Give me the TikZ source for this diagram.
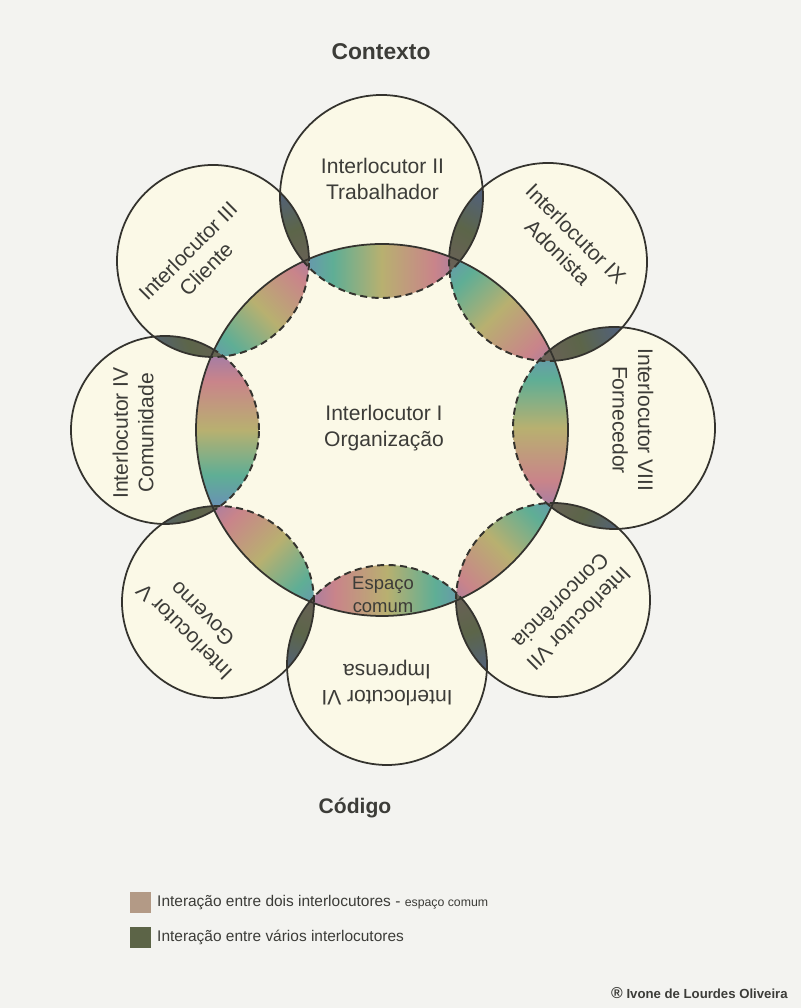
\documentclass[tikz,border=0pt]{standalone}
\usepackage{fontspec}
\setmainfont{Liberation Sans}
\usepackage{xcolor}
\usepackage{tikz}
\usetikzlibrary{positioning,calc}
\definecolor{papel}{HTML}{F3F3F0}
\definecolor{creme}{HTML}{FBF9E7}
\definecolor{traco}{HTML}{34332E}
\definecolor{texto}{HTML}{3C3C38}
\definecolor{lilas}{HTML}{8A78B8}
\definecolor{rosa}{HTML}{C9848A}
\definecolor{oliva}{HTML}{B8B070}
\definecolor{verdeagua}{HTML}{5FAE95}
\definecolor{azulado}{HTML}{6F82C6}
\definecolor{varA}{HTML}{6E5F5C}
\definecolor{varB}{HTML}{5C6549}
\definecolor{varC}{HTML}{4F6088}
\definecolor{codumdois}{HTML}{B39A86}
\definecolor{codvarios}{HTML}{5C6447}
\pgfdeclarehorizontalshading{espaco}{100bp}{color(0bp)=(lilas); color(25bp)=(lilas); color(37bp)=(rosa); color(50bp)=(oliva); color(62bp)=(verdeagua); color(75bp)=(azulado); color(100bp)=(azulado)}
\pgfdeclarehorizontalshading{varios}{100bp}{color(0bp)=(varA); color(25bp)=(varA); color(50bp)=(varB); color(75bp)=(varC); color(100bp)=(varC)}
\tikzset{
  contorno/.style={draw=traco, line width=1pt},
  tracejado/.style={draw=traco, line width=1.1pt, dash pattern=on 4pt off 2.5pt},
  rotulo/.style={text=texto, align=center, font=\fontsize{12}{14.5}\selectfont},
  titulo/.style={text=texto, font=\fontsize{13}{15}\selectfont\bfseries},
  chave/.style={minimum size=0.42cm, inner sep=0pt},
  legenda/.style={text=texto, font=\fontsize{8.8}{10}\selectfont, inner sep=0pt}
}

\begin{document}
\begin{tikzpicture}[x=1cm,y=1cm]
  \useasboundingbox (0,0) rectangle (16.02,20.16);
  \fill[papel] (0,0) rectangle (16.02,20.16);

  % centros dos interlocutores
  \coordinate (org) at (7.64,11.56);
  \foreach \n/\x/\y in {trab/7.63/16.23, adon/10.96/14.92, forn/12.28/11.60, conc/11.06/8.16,
      impr/7.74/6.86, gov/4.36/8.12, com/3.30/11.56, cli/4.26/14.94}
    \coordinate (\n) at (\x,\y);

  % fundo
  \fill[creme] (org) circle[radius=3.72];
  \foreach \n/\r in {trab/2.03, adon/1.98, forn/2.02, conc/1.94, impr/2.00, gov/1.92, com/1.88, cli/1.92}
    \fill[creme] (\n) circle[radius=\r];

  % espaco comum
  \foreach \n/\r/\t in {trab/2.03/180, adon/1.98/135, forn/2.02/90, conc/1.94/45,
      impr/2.00/0, gov/1.92/-45, com/1.88/-90, cli/1.92/-135}{
    \begin{scope}
      \clip (org) circle[radius=3.72];
      \shade[shading=espaco, shading angle=\t] (\n) circle[radius=\r];
    \end{scope}
  }

  % interacao entre varios
  \foreach \a/\ra/\b/\rb/\t in {cli/1.92/trab/2.03/110, trab/2.03/adon/1.98/60, adon/1.98/forn/2.02/20,
      forn/2.02/conc/1.94/-30, conc/1.94/impr/2.00/-70, impr/2.00/gov/1.92/-110,
      gov/1.92/com/1.88/160, com/1.88/cli/1.92/200}{
    \begin{scope}
      \clip (\a) circle[radius=\ra];
      \clip (\b) circle[radius=\rb];
      \shade[shading=varios, shading angle=\t] ($(\a)!0.5!(\b)$) circle[radius=1.05];
    \end{scope}
  }

  % contornos
  \begin{scope}
    \clip (0,0) -- (0,20.16) -- (16.02,20.16) -- (16.02,0) -- cycle (org) circle[radius=3.72];
    \foreach \n/\r in {trab/2.03, adon/1.98, forn/2.02, conc/1.94, impr/2.00, gov/1.92, com/1.88, cli/1.92}
      \draw[contorno] (\n) circle[radius=\r];
  \end{scope}
  \begin{scope}
    \clip (org) circle[radius=3.72];
    \foreach \n/\r in {trab/2.03, adon/1.98, forn/2.02, conc/1.94, impr/2.00, gov/1.92, com/1.88, cli/1.92}
      \draw[tracejado] (\n) circle[radius=\r];
  \end{scope}
  \draw[contorno] (org) circle[radius=3.72];

  % textos
  \node[titulo] (contexto) at (7.62,19.12) {Contexto};
  \node[rotulo] (ltrab) at (7.65,16.58) {Interlocutor II\\Trabalhador};
  \node[rotulo, rotate=-45] (ladon) at (11.34,15.30) {Interlocutor IX\\Adonista};
  \node[rotulo, rotate=-90] (lforn) at (12.66,11.76) {Interlocutor VIII\\Fornecedor};
  \node[rotulo, rotate=-135] (lconc) at (11.40,7.96) {Interlocutor VII\\Concorrência};
  \node[rotulo, rotate=180] (limpr) at (7.74,6.50) {Interlocutor VI\\Imprensa};
  \node[rotulo, rotate=135] (lgov) at (3.86,7.70) {Interlocutor V\\Governo};
  \node[rotulo, rotate=90] (lcom) at (2.66,11.50) {Interlocutor IV\\Comunidade};
  \node[rotulo, rotate=45] (lcli) at (3.94,14.96) {Interlocutor III\\Cliente};
  \node[rotulo] (lorg) at (7.68,11.60) {Interlocutor I\\Organização};
  \node[rotulo, font=\fontsize{10.5}{13}\selectfont] (espaco) at (7.66,8.26) {Espaço\\comum};
  \node[titulo, font=\fontsize{12}{14}\selectfont\bfseries] (codigo) at (7.10,4.00) {Código};

  % legenda
  \node[chave, fill=codumdois] (kumdois) at (2.80,2.11) {};
  \node[chave, fill=codvarios] (kvarios) at (2.80,1.41) {};
  \node[legenda, right=0.12cm of kumdois] (lumdois)
    {Interação entre dois interlocutores - {\fontsize{7}{8}\selectfont espaço comum}};
  \node[legenda, right=0.12cm of kvarios] (lvarios) {Interação entre vários interlocutores};
  \node[legenda, anchor=east, font=\fontsize{7.5}{9}\selectfont\bfseries] (autoria) at (15.76,0.30)
    {{\fontsize{9}{9}\selectfont ®} Ivone de Lourdes Oliveira};
\end{tikzpicture}
\end{document}
